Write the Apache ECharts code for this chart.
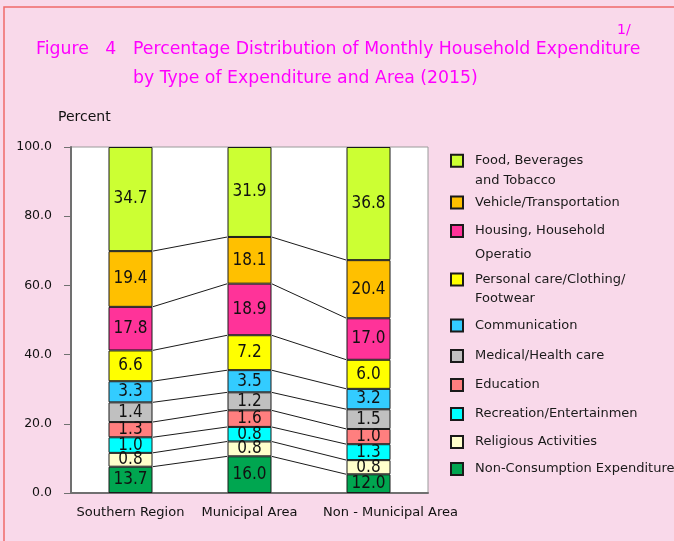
<!DOCTYPE html>
<html>
<head>
<meta charset="utf-8">
<script src="https://cdn.jsdelivr.net/npm/echarts@6/dist/echarts.min.js"></script>
<style>
  html, body { margin: 0; padding: 0; background: #f9d9ea; }
  #chart { width: 674px; height: 541px; }
</style>
</head>
<body>
<div id="chart"></div>
<script>
// areas on the x axis
const categories = ['Southern Region', 'Municipal Area', 'Non - Municipal Area']

// segment names, bottom to top
const seriesNames = [
  'Non-Consumption Expenditure',
  'Religious Activities',
  'Recreation/Entertainmen',
  'Education',
  'Medical/Health care',
  'Communication',
  'Personal care/Clothing/\nFootwear',
  'Housing, Household\nOperatio',
  'Vehicle/Transportation',
  'Food, Beverages\nand Tobacco'
]
const seriesColors = ['#00a650', '#ffffcc', '#00ffff', '#ff7f7f', '#c0c0c0', '#33ccff', '#ffff00', '#ff3399', '#ffc000', '#ccff33']

// printed percentages, bottom to top
const southernLabels = [13.7, 0.8, 1.0, 1.3, 1.4, 3.3, 6.6, 17.8, 19.4, 34.7]
const municipalLabels = [16.0, 0.8, 0.8, 1.6, 1.2, 3.5, 7.2, 18.9, 18.1, 31.9]
const nonMunicipalLabels = [12.0, 0.8, 1.3, 1.0, 1.5, 3.2, 6.0, 17.0, 20.4, 36.8]

// segment heights as drawn in the figure (small ones were enlarged), bottom to top
const southernHeights = [7.6, 4.0, 4.5, 4.4, 5.7, 6.1, 8.9, 12.6, 16.1, 30.1]
const municipalHeights = [10.6, 4.3, 4.2, 4.8, 5.2, 6.4, 10.1, 14.9, 13.5, 26.0]
const nonMunicipalHeights = [5.4, 4.1, 4.6, 4.4, 5.7, 5.9, 8.4, 12.0, 16.8, 32.7]

const yTicks = [0, 20, 40, 60, 80, 100]

const labels = [southernLabels, municipalLabels, nonMunicipalLabels]
const heights = [southernHeights, municipalHeights, nonMunicipalHeights]
const BAR_W = 44

// running tops of each segment, per area
const tops = heights.map(h => {
  let s = 0
  return h.map(v => (s += v))
})

const barSeries = seriesNames.map((name, k) => ({
  name: name,
  type: 'bar',
  stack: 'total',
  barWidth: BAR_W,
  data: heights.map(h => h[k]),
  itemStyle: { color: seriesColors[k], borderColor: '#1a1a1a', borderWidth: 1 },
  label: {
    show: true,
    position: 'inside',
    color: '#111',
    fontFamily: 'Liberation Sans Narrow, DejaVu Sans Condensed, sans-serif',
    fontSize: 17,
    formatter: p => labels[p.dataIndex][k].toFixed(1)
  },
  emphasis: { disabled: true }
}))

// lines joining segment tops of neighbouring bars
const joinSeries = {
  type: 'custom',
  silent: true,
  clip: false,
  data: [[0, 0], [1, 0]],
  renderItem (params, api) {
    const i = params.dataIndex
    const children = []
    for (let k = 0; k < seriesNames.length - 1; k++) {
      const a = api.coord([i, tops[i][k]])
      const b = api.coord([i + 1, tops[i + 1][k]])
      children.push({
        type: 'line',
        shape: { x1: a[0] + BAR_W / 2, y1: a[1], x2: b[0] - BAR_W / 2, y2: b[1] },
        style: { stroke: '#1a1a1a', lineWidth: 1 }
      })
    }
    return { type: 'group', children: children }
  }
}

// legend rows: [icon centre y, line height]
const legendRows = [
  [469, 16], [442, 16], [414, 16], [385, 16], [356, 16],
  [325.5, 16], [279.5, 19], [231, 24], [202.5, 16], [160.7, 20]
]
const legends = seriesNames.map((name, k) => {
  const cy = legendRows[k][0]
  const lh = legendRows[k][1]
  const multi = name.indexOf('\n') >= 0
  return {
    left: 450,
    top: multi ? cy - 1.5 * lh : cy - 6 - (lh / 2 - 6),
    padding: 0,
    icon: 'rect',
    itemWidth: 12,
    itemHeight: 12,
    selectedMode: false,
    data: [name],
    // blank first line keeps the first text line level with the icon
    formatter: n => (multi ? '\n' + n : n),
    textStyle: {
      fontFamily: 'DejaVu Sans',
      fontSize: 13,
      color: '#1a1a1a',
      lineHeight: lh,
      padding: [0, 0, 0, 7]
    }
  }
})

const titleFont = { fontFamily: 'DejaVu Sans', fontSize: 17.3, fontWeight: 'normal', color: '#ff00ff', lineHeight: 29 }

const chart = echarts.init(document.getElementById('chart'))
chart.setOption({
  backgroundColor: '#f9d9ea',
  animation: false,
  title: [
    { text: 'Figure   4', left: 36, top: 35, padding: 0, textStyle: titleFont },
    {
      text: 'Percentage Distribution of Monthly Household Expenditure\nby Type of Expenditure and Area (2015)',
      left: 133,
      top: 35,
      padding: 0,
      textStyle: titleFont
    },
    {
      text: '1/',
      left: 617,
      top: 23,
      padding: 0,
      textStyle: { fontFamily: 'DejaVu Sans', fontSize: 14, fontWeight: 'normal', color: '#ff00ff' }
    },
    {
      text: 'Percent',
      left: 58,
      top: 110,
      padding: 0,
      textStyle: { fontFamily: 'DejaVu Sans', fontSize: 14, fontWeight: 'normal', color: '#111' }
    }
  ],
  graphic: [
    {
      type: 'rect',
      shape: { x: 4, y: 7, width: 720, height: 600 },
      style: { fill: 'none', stroke: '#f06a6a', lineWidth: 1.5 },
      silent: true
    }
  ],
  legend: legends,
  grid: {
    left: 71,
    top: 147,
    width: 357,
    height: 346,
    show: true,
    backgroundColor: '#ffffff',
    borderColor: '#9a9a9a',
    borderWidth: 1
  },
  xAxis: {
    type: 'category',
    data: categories.map((c, i) => i === 2 ? { value: c, textStyle: { padding: [0, 0, 0, 44] } } : c),
    axisTick: { show: false },
    axisLine: { lineStyle: { color: '#707070', width: 2 } },
    axisLabel: {
      interval: 0,
      hideOverlap: false,
      fontFamily: 'DejaVu Sans',
      fontSize: 13,
      color: '#111',
      margin: 13
    }
  },
  yAxis: {
    type: 'value',
    min: yTicks[0],
    max: yTicks[yTicks.length - 1],
    interval: yTicks[1] - yTicks[0],
    splitLine: { show: false },
    axisLine: { show: true, lineStyle: { color: '#707070', width: 2 } },
    axisTick: { show: true, length: 7, lineStyle: { color: '#707070' } },
    axisLabel: {
      fontFamily: 'DejaVu Sans',
      fontSize: 12.5,
      color: '#111',
      margin: 19,
      formatter: v => v.toFixed(1)
    }
  },
  series: barSeries.concat([joinSeries])
})
</script>
</body>
</html>
